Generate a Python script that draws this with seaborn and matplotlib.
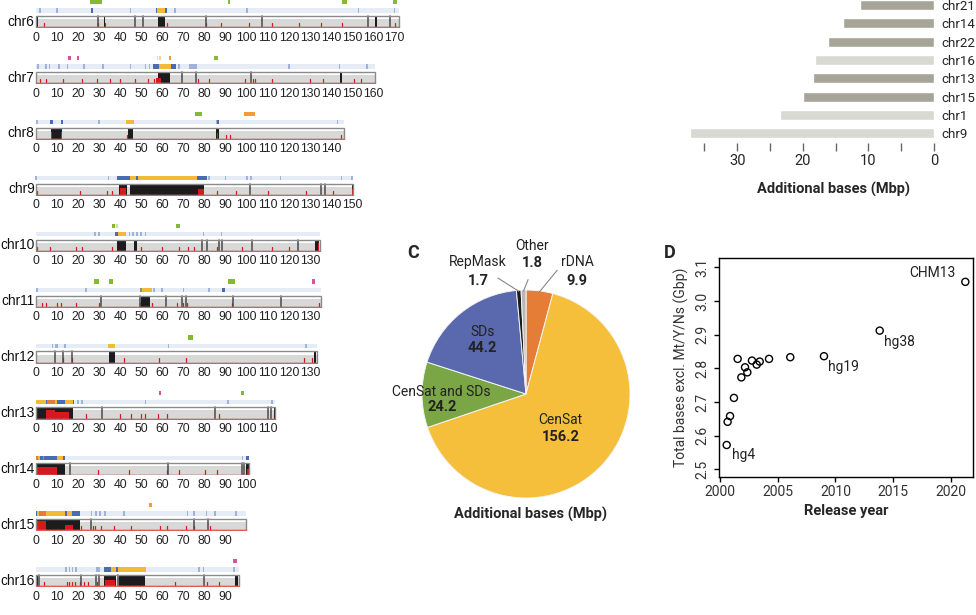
import numpy as np
import matplotlib.pyplot as plt
import seaborn as sns
from matplotlib.patches import Rectangle

# ---------------- A: chromosome ideograms (positions in Mbp) ----------------
chrom_names = ["chr6", "chr7", "chr8", "chr9", "chr10", "chr11", "chr12", "chr13", "chr14", "chr15", "chr16"]
chrom_len = [172.1, 160.6, 146.3, 150.6, 134.8, 135.1, 133.3, 113.6, 101.2, 99.8, 96.3]

black_blocks = {
    "chr6": [(0, 0.9), (32.2, 33.0), (57.8, 61.3), (161.0, 161.8)],
    "chr7": [(57.8, 63.6), (144.3, 145.0)],
    "chr8": [(0, 0.6), (7.1, 12.6), (43.9, 46.3), (85.6, 86.8)],
    "chr9": [(39.6, 43.1), (44.6, 79.9), (149.7, 150.6)],
    "chr10": [(38.4, 42.7), (46.6, 48.1), (132.6, 134.2)],
    "chr11": [(0, 0.7), (50.0, 54.2)],
    "chr12": [(34.6, 37.6), (132.0, 133.0)],
    "chr13": [(0, 17.6), (112.8, 113.6)],
    "chr14": [(0, 14.0), (99.5, 101.2)],
    "chr15": [(0, 21.0)],
    "chr16": [(0, 1.0), (32.4, 38.1), (39.5, 51.8), (94.5, 96.1)],
}
red_blocks = {
    "chr7": [(57.0, 59.5, 0.45)],
    "chr8": [(0, 0.5, 0.5), (7.1, 7.7, 0.6), (12.0, 12.6, 0.6), (85.8, 86.6, 0.5)],
    "chr9": [(40.0, 43.0, 0.6), (77.0, 79.9, 0.55), (149.8, 150.4, 0.5)],
    "chr10": [(133.6, 134.3, 0.7)],
    "chr11": [(0, 0.6, 0.5)],
    "chr13": [(5.0, 9.0, 0.8), (9.0, 16.0, 0.55)],
    "chr14": [(0.5, 10.0, 0.7), (100.2, 101.0, 0.5)],
    "chr15": [(0.5, 5.0, 0.85), (14.0, 17.5, 0.5)],
    "chr16": [(33.0, 37.5, 0.6)],
}
gap_lines = {
    "chr6": [29.4, 47.1, 50.7, 80.6, 107.4, 157.6, 167.9],
    "chr7": [69.2, 76.1, 101.9],
    "chr8": [],
    "chr9": [101.6, 135.2, 137.1],
    "chr10": [78.7, 81.0, 86.7, 88.2, 102.5, 124.5],
    "chr11": [30.8, 49.5, 61.6, 69.2, 71.0, 93.7, 116.3],
    "chr12": [9.3, 12.9, 17.4],
    "chr13": [31.3, 85.0, 110.2, 111.5],
    "chr14": [16.3, 62.6, 97.6, 98.8],
    "chr15": [26.4, 75.2, 81.8],
    "chr16": [1.8, 21.3, 28.6, 30.0, 38.9, 79.9],
}
red_spikes = {
    "chr6": [4, 29.5, 33, 62, 80.5, 88, 101, 112, 125, 135, 145, 170.5],
    "chr7": [2, 5, 13, 22, 29, 35, 40, 47, 53, 56, 77, 82, 99, 103, 104, 112, 130, 136, 151, 154],
    "chr8": [43.5, 86, 90, 92, 144.5],
    "chr9": [0.5, 21, 34, 36, 86, 95, 110, 128, 141],
    "chr10": [0.5, 7, 19, 22, 36, 50, 60, 68, 72, 75, 86, 98, 112, 120],
    "chr11": [3, 5, 10, 12, 19, 30, 49.5, 55, 67, 70, 71.5, 93, 134.5],
    "chr12": [13, 17, 42, 58.5, 71, 127, 131],
    "chr13": [24, 40, 45, 50, 52, 58, 62, 87, 113],
    "chr14": [29.5, 44, 62, 68, 80, 86],
    "chr15": [21.5, 27, 28, 31, 37, 45, 59, 62, 71, 75, 82.5],
    "chr16": [4, 15, 16, 17, 18.5, 21, 23, 25, 29, 40, 66, 81, 87],
}
track_blocks = {
    "chr6": [(26.2, 27.2, "B"), (56.8, 57.6, "B"), (57.6, 62.1, "Y"), (61.5, 62.3, "B")],
    "chr7": [(55.5, 58.5, "B"), (58.6, 63.9, "Y"), (64.0, 66.5, "B")],
    "chr8": [(7.0, 8.0, "B"), (11.8, 12.8, "B"), (43.0, 46.5, "Y"), (86.0, 86.8, "B")],
    "chr9": [(38.3, 44.6, "B"), (44.6, 76.3, "Y"), (47.7, 48.3, "B"), (76.3, 81.3, "B")],
    "chr10": [(37.8, 38.8, "B"), (38.8, 42.7, "Y")],
    "chr11": [(49.3, 50.5, "G"), (50.5, 55.0, "Y"), (88.3, 89.7, "B")],
    "chr12": [(34.4, 37.8, "Y")],
    "chr13": [(0, 4.7, "Y"), (4.7, 5.5, "B"), (5.5, 9.1, "O"), (9.1, 10.2, "Y"), (10.2, 13.9, "B"),
              (13.9, 17.5, "Y"), (17.5, 18.0, "B")],
    "chr14": [(0, 1.0, "O"), (1.0, 2.0, "Y"), (2.0, 3.5, "B"), (3.5, 4.1, "O"), (4.1, 10.0, "B"),
              (10.0, 13.1, "Y"), (13.1, 14.0, "B"), (99.5, 101.0, "B")],
    "chr15": [(0, 0.6, "B"), (0.6, 1.4, "Y"), (1.4, 4.9, "O"), (4.9, 13.9, "Y"), (13.9, 15.0, "B"),
              (15.0, 17.0, "Y"), (17.0, 21.0, "B")],
    "chr16": [(32.4, 35.7, "B"), (35.7, 38.0, "Y"), (38.0, 39.1, "B"), (39.1, 52.1, "Y")],
}
blue_ticks = {
    "chr6": [2, 10, 45, 66, 100, 153, 170],
    "chr7": [1, 5, 6.5, 11, 15, 23, 32, 45, 52, 54, 68, 73, 74, 75, 76, 120, 144, 157],
    "chr8": [0.5, 30, 86, 143],
    "chr9": [0, 34.5, 82, 90, 100, 102, 116, 145, 150],
    "chr10": [28, 30, 44.5, 46, 48, 50, 52, 79.5, 88],
    "chr11": [0.5, 24, 56, 60, 70, 82],
    "chr12": [8, 9.5, 10, 14, 63, 128],
    "chr13": [20, 22, 52, 91, 112],
    "chr14": [98],
    "chr15": [26.5, 28.5, 30.5, 33, 42, 72, 75, 81, 85, 95],
    "chr16": [14.5, 16, 17.5, 19, 29, 30, 77.5, 79.5, 94],
}
top_marks = {
    "chr6": [(25.8, 31.3, "g"), (91.3, 92.1, "g"), (145.0, 147.4, "g"), (169.5, 171.1, "g")],
    "chr7": [(15.5, 16.7, "p"), (19.4, 20.7, "p"), (57.3, 57.9, "lo"), (58.6, 59.2, "lo"),
             (63.3, 64.1, "o"), (84.6, 86.5, "g")],
    "chr8": [(75.5, 79.0, "g"), (98.9, 103.9, "o")],
    "chr9": [],
    "chr10": [(36.3, 37.6, "g"), (37.9, 38.9, "lg"), (66.4, 68.4, "g")],
    "chr11": [(27.8, 29.9, "g"), (34.6, 36.8, "g"), (91.3, 94.5, "g"), (130.8, 132.4, "p")],
    "chr12": [(72.3, 74.4, "g")],
    "chr13": [(58.3, 59.2, "p"), (97.2, 98.7, "g")],
    "chr14": [],
    "chr15": [(53.5, 55.3, "o")],
    "chr16": [(93.6, 95.5, "p")],
}

# ---------------- B: additional bases per chromosome ----------------
bar_chroms = ["chr21", "chr14", "chr22", "chr16", "chr13", "chr15", "chr1", "chr9"]
bar_values = [11.3, 13.9, 16.1, 18.1, 18.4, 20.0, 23.5, 37.2]
bar_group = ["acro", "acro", "acro", "other", "acro", "acro", "other", "other"]

# ---------------- C: pie ----------------
pie_labels = ["rDNA", "CenSat", "CenSat and SDs", "SDs", "RepMask", "Other"]
pie_values = [9.9, 156.2, 24.2, 44.2, 1.7, 1.8]

# ---------------- D: assembly size per release ----------------
release_year = [2000.58, 2000.66, 2000.87, 2001.21, 2001.53, 2001.85, 2002.17, 2002.37,
                2002.77, 2003.18, 2003.44, 2004.25, 2006.09, 2009.01, 2013.84, 2021.26]
total_gbp = [2.572, 2.641, 2.658, 2.712, 2.828, 2.773, 2.803, 2.788,
             2.823, 2.811, 2.820, 2.828, 2.833, 2.836, 2.912, 3.057]
named_points = {0: "hg4", 13: "hg19", 14: "hg38", 15: "CHM13"}

sns.set_theme(style="white")
plt.rcParams["font.family"] = ["Liberation Sans", "DejaVu Sans"]
side_font = ["Roboto", "DejaVu Sans"]

W, H = 976, 615
fig = plt.figure(figsize=(W / 100, H / 100), dpi=100)


def px_rect(left, top, width, height):
    return [left / W, 1 - (top + height) / H, width / W, height / H]


track_col = {"Y": "#f3ba3a", "B": "#4a6bb2", "O": "#e57d36", "G": "#8e8e8e"}
mark_col = {"g": "#85b935", "o": "#f39b36", "p": "#d0569c", "lo": "#f9d29a", "lg": "#cbe3a3"}

mbp_px = 2.11
x0_px = 35.7
unit_px = 11.3
for i, (name, length) in enumerate(zip(chrom_names, chrom_len)):
    base = 27.3 + 55.9 * i
    ylo, yhi = -0.08, 2.6
    ax = fig.add_axes(px_rect(x0_px - mbp_px, base - yhi * unit_px,
                              (length + 2) * mbp_px, (yhi - ylo) * unit_px))
    ax.set_xlim(-1, length + 1)
    ax.set_ylim(ylo, yhi)
    ax.set_frame_on(False)
    ax.set_yticks([])
    ax.set_xticks(np.arange(0, length, 10))
    ax.set_xticklabels([str(int(t)) for t in np.arange(0, length, 10)])
    ax.tick_params(axis="x", length=0, pad=2.5, labelsize=8.8, labelcolor="#222222")

    # gray density fill
    ax.add_patch(Rectangle((0, 0), length, 0.72, color="#d8d8d8", lw=0, zorder=1))
    for p in red_spikes.get(name, []):
        ax.plot([p, p], [0, 0.38], color="#d7191c", lw=0.9, zorder=2)
    for s, e in black_blocks.get(name, []):
        ax.add_patch(Rectangle((s, 0), e - s, 1, color="#1c1c1e", lw=0, zorder=3))
    for s, e, h in red_blocks.get(name, []):
        ax.add_patch(Rectangle((s, 0), e - s, h, color="#d7191c", lw=0, zorder=4))
    for p in gap_lines.get(name, []):
        ax.plot([p, p], [0, 1], color="#4a4a4a", lw=1.1, zorder=4)
    ax.add_patch(Rectangle((0, 0), length, 1, fill=False, ec="#8a8a8a", lw=1.0, zorder=5))
    ax.plot([0, length], [0, 0], color="#e05a5a", lw=1.0, zorder=6)

    # annotation track
    ax.add_patch(Rectangle((0, 1.3), length, 0.38, color="#e6ecf6", lw=0, zorder=1))
    for p in blue_ticks.get(name, []):
        ax.add_patch(Rectangle((p - 0.4, 1.3), 0.8, 0.38, color="#9fb3da", lw=0, zorder=2))
    for s, e, k in track_blocks.get(name, []):
        ax.add_patch(Rectangle((s, 1.3), e - s, 0.38, color=track_col[k], lw=0, zorder=3))
    for s, e, k in top_marks.get(name, []):
        ax.add_patch(Rectangle((s, 2.05), e - s, 0.37, color=mark_col[k], lw=0, zorder=3))

    ax.text(-0.5, 0.5, name, ha="right", va="center", fontsize=9.9, color="#111111")

# ---------------- B ----------------
axb = fig.add_axes(px_rect(688, 0, 246, 143))
bar_df = {"chrom": bar_chroms, "value": bar_values, "group": bar_group}
sns.barplot(data=bar_df, x="value", y="chrom", hue="group", order=bar_chroms,
            palette={"acro": "#a8a794", "other": "#d9dad2"}, dodge=False,
            width=0.55, orient="h", legend=False, ax=axb)
axb.set_xlim(37.5, 0)
axb.set_ylim(7.53, -0.27)
sns.despine(ax=axb, left=True, bottom=True)
axb.yaxis.tick_right()
axb.tick_params(axis="y", length=0, pad=5, labelsize=9.6)
for t in axb.get_yticklabels():
    t.set_family(side_font)
axb.set_ylabel("")
axb.set_xticks([0, 10, 20, 30])
axb.set_xticks([5, 15, 25, 35], minor=True)
axb.tick_params(axis="x", which="both", bottom=True, direction="out", length=6,
                width=1, color="#666666", pad=2, labelsize=10.5)
for t in axb.get_xticklabels():
    t.set_family(side_font)
axb.set_xlabel("Additional bases (Mbp)", fontsize=10.5, fontweight="bold", family=side_font)
axb.xaxis.set_label_coords(0.593, -0.27)

# ---------------- C ----------------
fig.text(413 / W, 1 - 253 / H, "C", fontsize=13, fontweight="bold", family=side_font,
         ha="center", va="center")
axc = fig.add_axes(px_rect(526 - 104, 394 - 104, 208, 208))
wedges, _ = axc.pie(pie_values, colors=["#e57d36", "#f5bf3b", "#7aa645", "#5a69ae", "#1b1b1b", "#b8b8b8"],
                    startangle=90, counterclock=False, radius=1,
                    wedgeprops=dict(edgecolor="#f4f4f4", linewidth=0.7))
axc.set_xlim(-1, 1)
axc.set_ylim(-1, 1)
axc.set_aspect("equal")

inner = {"CenSat": (0.33, -0.25, -0.41), "SDs": (-0.42, 0.60, 0.44),
         "CenSat and SDs": (-0.81, 0.02, -0.125)}
outer = {"RepMask": (-0.46, 1.27, 1.09, (-0.27, 1.115)),
         "Other": (0.06, 1.42, 1.26, (0.02, 1.10)),
         "rDNA": (0.49, 1.27, 1.09, (0.30, 1.19))}
for w, lab, val in zip(wedges, pie_labels, pie_values):
    if lab in inner:
        x, y1, y2 = inner[lab]
        axc.text(x, y1, lab, ha="center", va="center", fontsize=10, family=side_font, color="#222222")
        axc.text(x, y2, f"{val}", ha="center", va="center", fontsize=10.5, fontweight="bold",
                 family=side_font, color="#222222")
    else:
        x, y1, y2, start = outer[lab]
        axc.text(x, y1, lab, ha="center", va="center", fontsize=10, family=side_font, color="#222222")
        axc.text(x, y2, f"{val}", ha="center", va="center", fontsize=10.5, fontweight="bold",
                 family=side_font, color="#222222")
        ang = np.deg2rad((w.theta1 + w.theta2) / 2)
        axc.plot([start[0], 0.99 * np.cos(ang)], [start[1], 0.99 * np.sin(ang)],
                 color="#888888", lw=0.8, clip_on=False)
axc.text(0.04, -1.16, "Additional bases (Mbp)", ha="center", va="center", fontsize=10.5,
         fontweight="bold", family=side_font)

# ---------------- D ----------------
fig.text(670 / W, 1 - 253 / H, "D", fontsize=13, fontweight="bold", family=side_font,
         ha="center", va="center")
axd = fig.add_axes(px_rect(719.3, 258.3, 253.4, 219))
sns.scatterplot(x=release_year, y=total_gbp, marker="o", s=26, facecolors="none",
                edgecolor="black", linewidth=1.0, ax=axd)
axd.set_xlim(1999.94, 2021.9)
axd.set_ylim(2.476, 3.127)
for sp in axd.spines.values():
    sp.set_visible(True)
    sp.set_color("black")
    sp.set_linewidth(1.0)
axd.set_xticks([2000, 2005, 2010, 2015, 2020])
axd.set_yticks([2.5, 2.6, 2.7, 2.8, 2.9, 3.0, 3.1])
axd.set_yticklabels([f"{v:.1f}" for v in [2.5, 2.6, 2.7, 2.8, 2.9, 3.0, 3.1]],
                    rotation=90, va="center")
axd.tick_params(axis="both", bottom=True, left=True, direction="out", length=3.5,
                width=1, color="black", labelsize=10, labelcolor="#333333")
axd.tick_params(axis="y", pad=4)
axd.tick_params(axis="x", pad=2)
for t in axd.get_xticklabels() + axd.get_yticklabels():
    t.set_family(side_font)
axd.set_xlabel("Release year", fontsize=10.5, fontweight="bold", family=side_font, labelpad=4)
axd.set_ylabel("Total bases excl. Mt/Y/Ns (Gbp)", fontsize=10, family=side_font,
               color="#333333", labelpad=4)
label_offsets = {0: (3.5, -7.5, "left"), 13: (3, -8, "left"), 14: (3, -8, "left"), 15: (-7, 6.5, "right")}
for idx, lab in named_points.items():
    dx, dy, ha = label_offsets[idx]
    axd.annotate(lab, (release_year[idx], total_gbp[idx]), xytext=(dx, dy),
                 textcoords="offset points", ha=ha, va="center", fontsize=10,
                 family=side_font, color="#222222")

fig.savefig("out.png", dpi=100)
